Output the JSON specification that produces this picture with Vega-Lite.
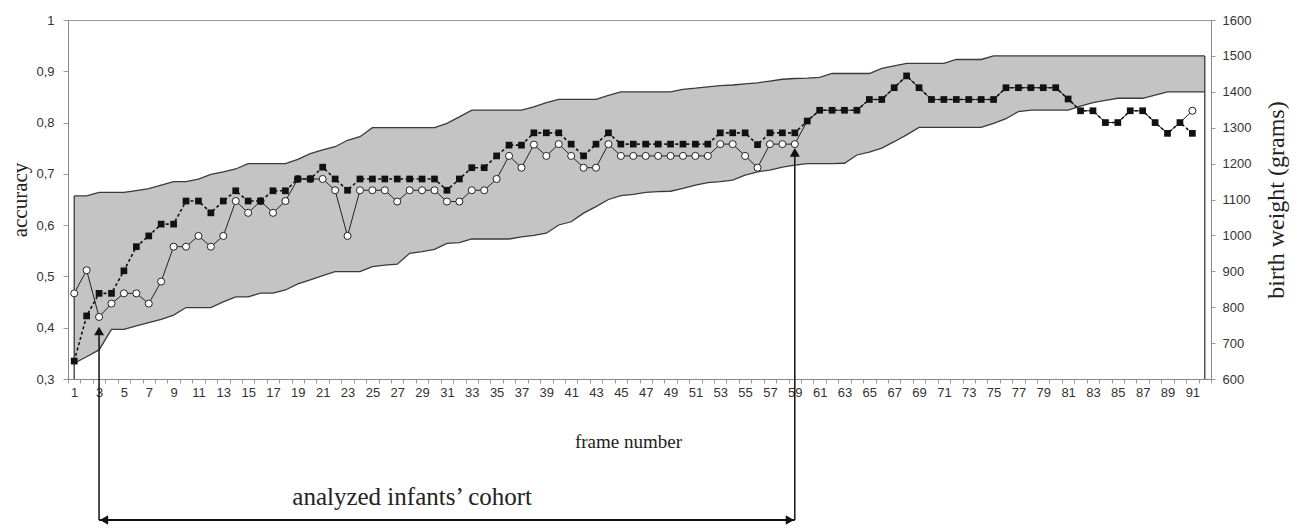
{
  "$schema": "https://vega.github.io/schema/vega-lite/v6.json",
  "width": 1143,
  "height": 359,
  "autosize": {"type": "none"},
  "padding": {"left": 68, "top": 20, "right": 87, "bottom": 153},
  "background": "white",
  "config": {
    "view": {"stroke": "#999999", "strokeWidth": 1},
    "axis": {
      "labelFont": "Liberation Sans",
      "labelFontSize": 13,
      "labelColor": "#333333",
      "titleFont": "Liberation Serif",
      "titleFontWeight": "normal",
      "titleColor": "#222222",
      "domainColor": "#888888",
      "tickColor": "#999999",
      "grid": false
    },
    "axisLeft": {"titleFontSize": 21, "titlePadding": 5, "tickSize": 5, "labelPadding": 9},
    "axisRight": {"titleFontSize": 24, "titleAngle": 270, "titleBaseline": "top", "titlePadding": 14, "tickSize": 4, "labelPadding": 7}
  },
  "data": {
    "values": [
      {"frame": 1, "sq": 0.335, "ci": 0.467, "lo": 644, "hi": 1110},
      {"frame": 2, "sq": 0.423, "ci": 0.512, "lo": 662, "hi": 1110},
      {"frame": 3, "sq": 0.467, "ci": 0.421, "lo": 681, "hi": 1120},
      {"frame": 4, "sq": 0.467, "ci": 0.447, "lo": 738, "hi": 1120},
      {"frame": 5, "sq": 0.511, "ci": 0.467, "lo": 738, "hi": 1120},
      {"frame": 6, "sq": 0.558, "ci": 0.467, "lo": 748, "hi": 1125},
      {"frame": 7, "sq": 0.579, "ci": 0.447, "lo": 757, "hi": 1130},
      {"frame": 8, "sq": 0.602, "ci": 0.49, "lo": 766, "hi": 1140},
      {"frame": 9, "sq": 0.602, "ci": 0.558, "lo": 778, "hi": 1150},
      {"frame": 10, "sq": 0.647, "ci": 0.558, "lo": 799, "hi": 1150},
      {"frame": 11, "sq": 0.647, "ci": 0.579, "lo": 799, "hi": 1157},
      {"frame": 12, "sq": 0.624, "ci": 0.558, "lo": 799, "hi": 1170},
      {"frame": 13, "sq": 0.647, "ci": 0.579, "lo": 815, "hi": 1177},
      {"frame": 14, "sq": 0.667, "ci": 0.647, "lo": 829, "hi": 1185},
      {"frame": 15, "sq": 0.647, "ci": 0.624, "lo": 829, "hi": 1200},
      {"frame": 16, "sq": 0.647, "ci": 0.647, "lo": 839, "hi": 1200},
      {"frame": 17, "sq": 0.667, "ci": 0.624, "lo": 839, "hi": 1200},
      {"frame": 18, "sq": 0.667, "ci": 0.647, "lo": 848, "hi": 1200},
      {"frame": 19, "sq": 0.69, "ci": 0.69, "lo": 865, "hi": 1212},
      {"frame": 20, "sq": 0.69, "ci": 0.69, "lo": 876, "hi": 1228},
      {"frame": 21, "sq": 0.713, "ci": 0.69, "lo": 888, "hi": 1238},
      {"frame": 22, "sq": 0.69, "ci": 0.668, "lo": 899, "hi": 1247},
      {"frame": 23, "sq": 0.668, "ci": 0.579, "lo": 899, "hi": 1265},
      {"frame": 24, "sq": 0.69, "ci": 0.668, "lo": 899, "hi": 1275},
      {"frame": 25, "sq": 0.69, "ci": 0.668, "lo": 913, "hi": 1300},
      {"frame": 26, "sq": 0.69, "ci": 0.668, "lo": 917, "hi": 1300},
      {"frame": 27, "sq": 0.69, "ci": 0.646, "lo": 920, "hi": 1300},
      {"frame": 28, "sq": 0.69, "ci": 0.668, "lo": 950, "hi": 1300},
      {"frame": 29, "sq": 0.69, "ci": 0.668, "lo": 955, "hi": 1300},
      {"frame": 30, "sq": 0.69, "ci": 0.668, "lo": 961, "hi": 1300},
      {"frame": 31, "sq": 0.668, "ci": 0.646, "lo": 978, "hi": 1312},
      {"frame": 32, "sq": 0.69, "ci": 0.646, "lo": 980, "hi": 1330},
      {"frame": 33, "sq": 0.712, "ci": 0.668, "lo": 990, "hi": 1349},
      {"frame": 34, "sq": 0.712, "ci": 0.668, "lo": 990, "hi": 1349},
      {"frame": 35, "sq": 0.735, "ci": 0.69, "lo": 990, "hi": 1349},
      {"frame": 36, "sq": 0.756, "ci": 0.735, "lo": 990, "hi": 1349},
      {"frame": 37, "sq": 0.756, "ci": 0.712, "lo": 996, "hi": 1349},
      {"frame": 38, "sq": 0.78, "ci": 0.757, "lo": 1000, "hi": 1358},
      {"frame": 39, "sq": 0.78, "ci": 0.735, "lo": 1006, "hi": 1370},
      {"frame": 40, "sq": 0.78, "ci": 0.758, "lo": 1029, "hi": 1379},
      {"frame": 41, "sq": 0.758, "ci": 0.735, "lo": 1038, "hi": 1379},
      {"frame": 42, "sq": 0.735, "ci": 0.712, "lo": 1062, "hi": 1379},
      {"frame": 43, "sq": 0.758, "ci": 0.712, "lo": 1080, "hi": 1379},
      {"frame": 44, "sq": 0.78, "ci": 0.758, "lo": 1100, "hi": 1390},
      {"frame": 45, "sq": 0.758, "ci": 0.735, "lo": 1111, "hi": 1400},
      {"frame": 46, "sq": 0.758, "ci": 0.735, "lo": 1114, "hi": 1400},
      {"frame": 47, "sq": 0.758, "ci": 0.735, "lo": 1120, "hi": 1400},
      {"frame": 48, "sq": 0.758, "ci": 0.735, "lo": 1122, "hi": 1400},
      {"frame": 49, "sq": 0.758, "ci": 0.735, "lo": 1123, "hi": 1400},
      {"frame": 50, "sq": 0.758, "ci": 0.735, "lo": 1131, "hi": 1407},
      {"frame": 51, "sq": 0.758, "ci": 0.735, "lo": 1140, "hi": 1410},
      {"frame": 52, "sq": 0.758, "ci": 0.735, "lo": 1147, "hi": 1414},
      {"frame": 53, "sq": 0.78, "ci": 0.758, "lo": 1150, "hi": 1417},
      {"frame": 54, "sq": 0.78, "ci": 0.758, "lo": 1154, "hi": 1419},
      {"frame": 55, "sq": 0.78, "ci": 0.735, "lo": 1168, "hi": 1422},
      {"frame": 56, "sq": 0.757, "ci": 0.712, "lo": 1177, "hi": 1425},
      {"frame": 57, "sq": 0.78, "ci": 0.758, "lo": 1182, "hi": 1430},
      {"frame": 58, "sq": 0.78, "ci": 0.758, "lo": 1190, "hi": 1435},
      {"frame": 59, "sq": 0.78, "ci": 0.758, "lo": 1196, "hi": 1437},
      {"frame": 60, "sq": 0.803, "ci": 0.803, "lo": 1200, "hi": 1438},
      {"frame": 61, "sq": 0.824, "ci": 0.824, "lo": 1200, "hi": 1440},
      {"frame": 62, "sq": 0.824, "ci": 0.824, "lo": 1200, "hi": 1451},
      {"frame": 63, "sq": 0.824, "ci": 0.824, "lo": 1201, "hi": 1451},
      {"frame": 64, "sq": 0.824, "ci": 0.824, "lo": 1224, "hi": 1451},
      {"frame": 65, "sq": 0.845, "ci": 0.845, "lo": 1232, "hi": 1451},
      {"frame": 66, "sq": 0.845, "ci": 0.845, "lo": 1243, "hi": 1465},
      {"frame": 67, "sq": 0.868, "ci": 0.868, "lo": 1261, "hi": 1472},
      {"frame": 68, "sq": 0.891, "ci": 0.891, "lo": 1280, "hi": 1479},
      {"frame": 69, "sq": 0.868, "ci": 0.868, "lo": 1301, "hi": 1479},
      {"frame": 70, "sq": 0.845, "ci": 0.845, "lo": 1301, "hi": 1479},
      {"frame": 71, "sq": 0.845, "ci": 0.845, "lo": 1301, "hi": 1479},
      {"frame": 72, "sq": 0.845, "ci": 0.845, "lo": 1301, "hi": 1490},
      {"frame": 73, "sq": 0.845, "ci": 0.845, "lo": 1301, "hi": 1490},
      {"frame": 74, "sq": 0.845, "ci": 0.845, "lo": 1301, "hi": 1490},
      {"frame": 75, "sq": 0.845, "ci": 0.845, "lo": 1312, "hi": 1500},
      {"frame": 76, "sq": 0.868, "ci": 0.868, "lo": 1325, "hi": 1500},
      {"frame": 77, "sq": 0.868, "ci": 0.868, "lo": 1345, "hi": 1500},
      {"frame": 78, "sq": 0.868, "ci": 0.868, "lo": 1349, "hi": 1500},
      {"frame": 79, "sq": 0.868, "ci": 0.868, "lo": 1349, "hi": 1500},
      {"frame": 80, "sq": 0.868, "ci": 0.868, "lo": 1349, "hi": 1500},
      {"frame": 81, "sq": 0.846, "ci": 0.846, "lo": 1349, "hi": 1500},
      {"frame": 82, "sq": 0.823, "ci": 0.823, "lo": 1360, "hi": 1500},
      {"frame": 83, "sq": 0.823, "ci": 0.823, "lo": 1370, "hi": 1500},
      {"frame": 84, "sq": 0.8, "ci": 0.8, "lo": 1376, "hi": 1500},
      {"frame": 85, "sq": 0.8, "ci": 0.8, "lo": 1382, "hi": 1500},
      {"frame": 86, "sq": 0.823, "ci": 0.823, "lo": 1382, "hi": 1500},
      {"frame": 87, "sq": 0.823, "ci": 0.823, "lo": 1382, "hi": 1500},
      {"frame": 88, "sq": 0.8, "ci": 0.8, "lo": 1391, "hi": 1500},
      {"frame": 89, "sq": 0.779, "ci": 0.779, "lo": 1400, "hi": 1500},
      {"frame": 90, "sq": 0.8, "ci": 0.8, "lo": 1400, "hi": 1500},
      {"frame": 91, "sq": 0.779, "ci": 0.823, "lo": 1400, "hi": 1500},
      {"frame": 92, "sq": null, "ci": null, "lo": 1400, "hi": 1500}
    ]
  },
  "encoding": {
    "x": {
      "field": "frame",
      "type": "quantitative",
      "scale": {"domain": [0.5, 92.5], "nice": false, "zero": false},
      "axis": {
        "title": "frame number",
        "titleFontSize": 19,
        "titlePadding": 33,
        "titleX": 560,
        "titleBaseline": "top",
        "values": [0.5,1.5,2.5,3.5,4.5,5.5,6.5,7.5,8.5,9.5,10.5,11.5,12.5,13.5,14.5,15.5,16.5,17.5,18.5,19.5,20.5,21.5,22.5,23.5,24.5,25.5,26.5,27.5,28.5,29.5,30.5,31.5,32.5,33.5,34.5,35.5,36.5,37.5,38.5,39.5,40.5,41.5,42.5,43.5,44.5,45.5,46.5,47.5,48.5,49.5,50.5,51.5,52.5,53.5,54.5,55.5,56.5,57.5,58.5,59.5,60.5,61.5,62.5,63.5,64.5,65.5,66.5,67.5,68.5,69.5,70.5,71.5,72.5,73.5,74.5,75.5,76.5,77.5,78.5,79.5,80.5,81.5,82.5,83.5,84.5,85.5,86.5,87.5,88.5,89.5,90.5,91.5,92.5,1,3,5,7,9,11,13,15,17,19,21,23,25,27,29,31,33,35,37,39,41,43,45,47,49,51,53,55,57,59,61,63,65,67,69,71,73,75,77,79,81,83,85,87,89,91],
        "labelExpr": "datum.value % 2 === 1 ? '' + datum.value : ''",
        "labelOverlap": false,
        "labelFlush": false,
        "labelPadding": 3,
        "tickSize": 4,
        "tickOpacity": {"condition": {"test": "datum.value % 1 !== 0", "value": 1}, "value": 0}
      }
    }
  },
  "layer": [
    {
      "layer": [
        {
          "mark": {"type": "area", "color": "#c4c4c4", "opacity": 1},
          "encoding": {
            "y": {
              "field": "hi",
              "type": "quantitative",
              "scale": {"domain": [600, 1600], "nice": false, "zero": false},
              "axis": {"orient": "right", "title": "birth weight (grams)", "format": "d", "values": [600,700,800,900,1000,1100,1200,1300,1400,1500,1600]}
            },
            "y2": {"field": "lo"}
          }
        },
        {
          "mark": {"type": "line", "color": "#3a3a3a", "strokeWidth": 1.3},
          "encoding": {"y": {"field": "hi", "type": "quantitative", "axis": {"orient": "right", "title": "birth weight (grams)", "format": "d", "values": [600,700,800,900,1000,1100,1200,1300,1400,1500,1600]}}}
        },
        {
          "mark": {"type": "line", "color": "#3a3a3a", "strokeWidth": 1.3},
          "encoding": {"y": {"field": "lo", "type": "quantitative", "axis": {"orient": "right", "title": "birth weight (grams)", "format": "d", "values": [600,700,800,900,1000,1100,1200,1300,1400,1500,1600]}}}
        },
        {
          "transform": [{"filter": "datum.frame == 1 || datum.frame == 92"}],
          "mark": {"type": "rule", "color": "#3a3a3a", "strokeWidth": 1.3},
          "encoding": {
            "y": {"field": "hi", "type": "quantitative", "axis": {"orient": "right", "title": "birth weight (grams)", "format": "d", "values": [600,700,800,900,1000,1100,1200,1300,1400,1500,1600]}},
            "y2": {"datum": 600}
          }
        }
      ]
    },
    {
      "layer": [
        {
          "mark": {"type": "line", "color": "#222222", "strokeWidth": 1},
          "encoding": {
            "y": {
              "field": "ci",
              "type": "quantitative",
              "scale": {"domain": [0.3, 1], "nice": false, "zero": false},
              "axis": {"orient": "left", "title": "accuracy", "values": [0.3,0.4,0.5,0.6,0.7,0.8,0.9,1], "labelExpr": "replace(format(datum.value, '.1~f'), '.', ',')"}
            }
          }
        },
        {
          "mark": {"type": "line", "color": "#111111", "strokeWidth": 1.6, "strokeDash": [3, 2.5]},
          "encoding": {"y": {"field": "sq", "type": "quantitative", "axis": {"orient": "left", "title": "accuracy", "values": [0.3,0.4,0.5,0.6,0.7,0.8,0.9,1], "labelExpr": "replace(format(datum.value, '.1~f'), '.', ',')"}}}
        },
        {
          "transform": [{"filter": "datum.frame <= 59 || datum.frame == 91"}],
          "mark": {"type": "point", "shape": "circle", "filled": true, "fill": "white", "stroke": "#222222", "strokeWidth": 1, "size": 50, "opacity": 1},
          "encoding": {"y": {"field": "ci", "type": "quantitative", "axis": {"orient": "left", "title": "accuracy", "values": [0.3,0.4,0.5,0.6,0.7,0.8,0.9,1], "labelExpr": "replace(format(datum.value, '.1~f'), '.', ',')"}}}
        },
        {
          "mark": {"type": "square", "color": "#111111", "size": 45, "opacity": 1},
          "encoding": {"y": {"field": "sq", "type": "quantitative", "axis": {"orient": "left", "title": "accuracy", "values": [0.3,0.4,0.5,0.6,0.7,0.8,0.9,1], "labelExpr": "replace(format(datum.value, '.1~f'), '.', ',')"}}}
        },
        {
          "data": {"values": [
            {"frame": 3, "a": 0.39, "b": 0.025},
            {"frame": 59, "a": 0.74, "b": 0.025}
          ]},
          "mark": {"type": "rule", "color": "#111111", "strokeWidth": 1.5},
          "encoding": {
            "y": {"field": "a", "type": "quantitative", "axis": {"orient": "left", "title": "accuracy", "values": [0.3,0.4,0.5,0.6,0.7,0.8,0.9,1], "labelExpr": "replace(format(datum.value, '.1~f'), '.', ',')"}},
            "y2": {"field": "b"}
          }
        },
        {
          "data": {"values": [
            {"frame": 3, "a": 0.3936},
            {"frame": 59, "a": 0.742}
          ]},
          "mark": {"type": "point", "shape": "triangle-up", "filled": true, "color": "#111111", "size": 100, "opacity": 1},
          "encoding": {"y": {"field": "a", "type": "quantitative", "axis": {"orient": "left", "title": "accuracy", "values": [0.3,0.4,0.5,0.6,0.7,0.8,0.9,1], "labelExpr": "replace(format(datum.value, '.1~f'), '.', ',')"}}}
        },
        {
          "data": {"values": [
            {"frame": 3, "frame2": 59, "a": 0.025}
          ]},
          "mark": {"type": "rule", "color": "#111111", "strokeWidth": 2},
          "encoding": {
            "x2": {"field": "frame2"},
            "y": {"field": "a", "type": "quantitative", "axis": {"orient": "left", "title": "accuracy", "values": [0.3,0.4,0.5,0.6,0.7,0.8,0.9,1], "labelExpr": "replace(format(datum.value, '.1~f'), '.', ',')"}}
          }
        },
        {
          "data": {"values": [
            {"frame": 3.4, "a": 0.025, "dir": "left"},
            {"frame": 58.6, "a": 0.025, "dir": "right"}
          ]},
          "mark": {"type": "point", "filled": true, "color": "#111111", "size": 90, "opacity": 1},
          "encoding": {
            "y": {"field": "a", "type": "quantitative", "axis": {"orient": "left", "title": "accuracy", "values": [0.3,0.4,0.5,0.6,0.7,0.8,0.9,1], "labelExpr": "replace(format(datum.value, '.1~f'), '.', ',')"}},
            "shape": {"field": "dir", "type": "nominal", "scale": {"domain": ["left", "right"], "range": ["triangle-left", "triangle-right"]}, "legend": null}
          }
        },
        {
          "data": {"values": [
            {"frame": 28.2, "a": 0.054, "label": "analyzed infants’ cohort"}
          ]},
          "mark": {"type": "text", "font": "Liberation Serif", "fontSize": 25, "color": "#222222", "align": "center", "baseline": "alphabetic"},
          "encoding": {
            "y": {"field": "a", "type": "quantitative", "axis": {"orient": "left", "title": "accuracy", "values": [0.3,0.4,0.5,0.6,0.7,0.8,0.9,1], "labelExpr": "replace(format(datum.value, '.1~f'), '.', ',')"}},
            "text": {"field": "label"}
          }
        }
      ]
    }
  ],
  "resolve": {"scale": {"y": "independent"}}
}
